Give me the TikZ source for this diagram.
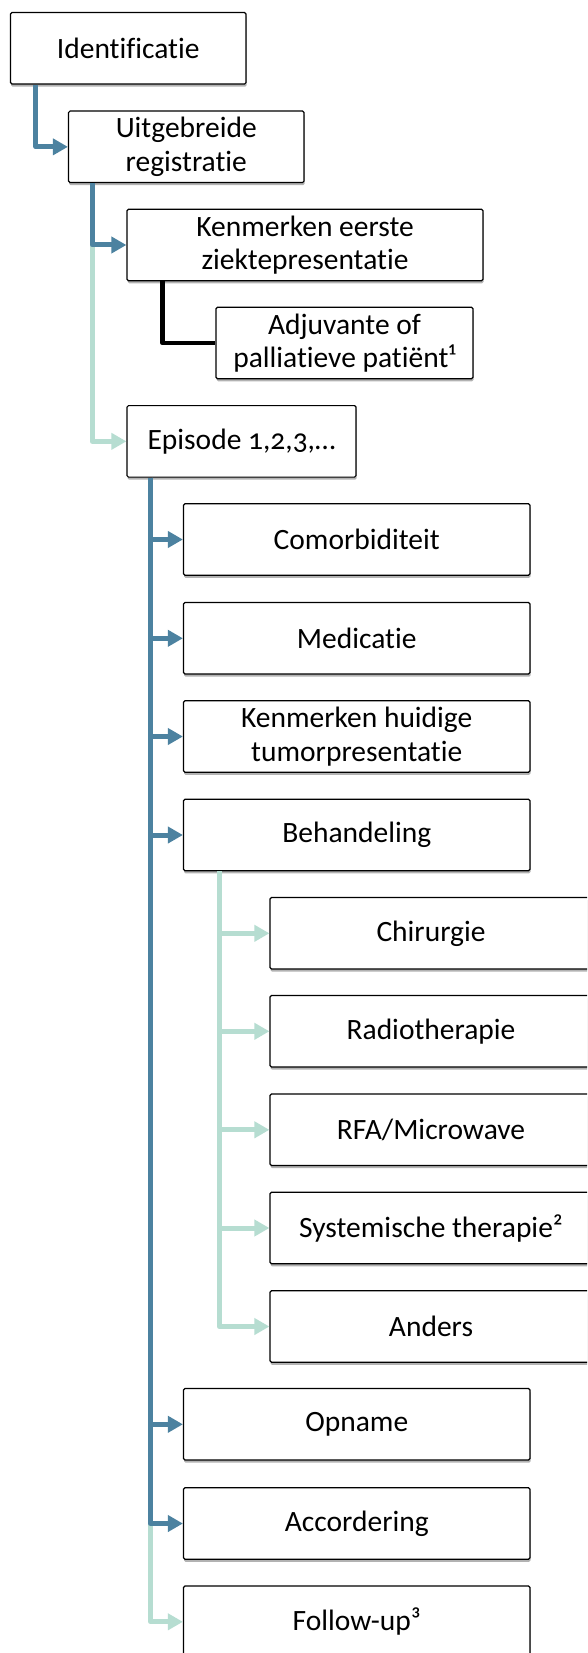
\documentclass[tikz,border=0pt]{standalone}
\usepackage{fontspec}
\setmainfont{Carlito}[Ligatures={NoCommon}]
\usetikzlibrary{arrows.meta,calc,shadows}
\definecolor{linkblue}{RGB}{76,130,160}
\definecolor{linkgreen}{RGB}{182,221,209}
\tikzset{
  box/.style={draw=black, line width=1.2pt, fill=white, rounded corners=1.5pt,
    inner sep=0pt, align=center, font=\fontsize{29.5}{33.5}\selectfont,
    drop shadow={shadow xshift=0.6pt, shadow yshift=-2.6pt, fill=black, opacity=0.3},
    minimum height=71.5pt},
  bluelink/.style={draw=linkblue, line width=5pt, line join=round,
    -{Triangle[length=15pt,width=16pt]}},
  greenlink/.style={draw=linkgreen, line width=5pt, line join=round,
    -{Triangle[length=15pt,width=16pt]}},
  blacklink/.style={draw=black, line width=4.5pt, line join=round}
}
\begin{document}
\begin{tikzpicture}[x=1pt,y=-1pt]
\useasboundingbox (0,0) rectangle (587,1653);
\fill[white] (0,0) rectangle (587,1653);
\clip (0,0) rectangle (587,1653);

\node[box, minimum width=235.5pt] (idf) at (128.25,48.35) {Identificatie};
\node[box, minimum width=235.5pt] (uit) at (186.25,146.85) {Uitgebreide\\registratie};
\node[box, minimum width=356pt] (kenA) at (305,245) {Kenmerken eerste\\ziektepresentatie};
\node[box, minimum width=257pt] (adj) at (344.5,343) {Adjuvante of\\palliatieve patiënt¹};
\node[box, minimum width=229pt] (epi) at (241.5,441.35) {Episode {\addfontfeatures{Numbers=OldStyle}1,2,3,…}};

\node[box, minimum width=346.5pt] (com) at (356.75,539.5) {Comorbiditeit};
\node[box, minimum width=346.5pt] (med) at (356.75,638.3) {Medicatie};
\node[box, minimum width=346.5pt] (kenB) at (356.75,736.5) {Kenmerken huidige\\tumorpresentatie};
\node[box, minimum width=346.5pt] (beh) at (356.75,835) {Behandeling};

\node[box, minimum width=322pt] (chi) at (431,933.3) {Chirurgie};
\node[box, minimum width=322pt] (rad) at (431,1031.3) {Radiotherapie};
\node[box, minimum width=322pt] (rfa) at (431,1129.8) {RFA/Microwave};
\node[box, minimum width=322pt] (sys) at (431,1228) {Systemische therapie²};
\node[box, minimum width=322pt] (and) at (431,1326.5) {Anders};

\node[box, minimum width=346.5pt] (opn) at (356.75,1424.3) {Opname};
\node[box, minimum width=346.5pt] (acc) at (356.75,1523.5) {Accordering};
\node[box, minimum width=346.5pt] (fol) at (356.75,1621.8) {Follow-up³};

\coordinate (i0) at ($(idf.south west)+(26,0)$);
\coordinate (u0) at ($(uit.south west)+(24.3,0)$);
\coordinate (k0) at ($(kenA.south west)+(36,0)$);
\coordinate (e0) at ($(epi.south west)+(24,0)$);
\coordinate (b0) at ($(beh.south west)+(36.3,0)$);

% connectors
\draw[bluelink] (i0) |- (uit.west);
\draw[greenlink] (u0) |- (epi.west);
\draw[bluelink] (u0) |- (kenA.west);
\draw[blacklink] (k0) |- (adj.west);

\foreach \n in {chi,rad,rfa,sys,and}
  \draw[greenlink] (b0) |- (\n.west);

\draw[greenlink] (e0 |- acc.west) |- (fol.west);
\foreach \n in {com,med,kenB,beh,opn,acc}
  \draw[bluelink] (e0) |- (\n.west);
\end{tikzpicture}
\end{document}
